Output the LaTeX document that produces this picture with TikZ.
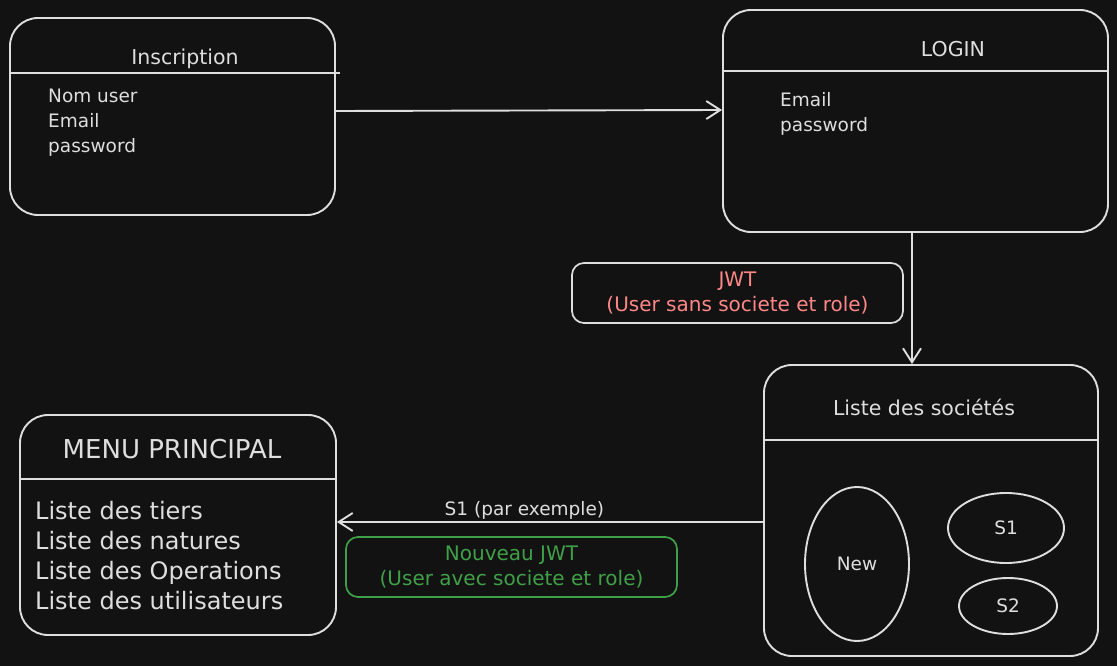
\documentclass[tikz,border=0pt]{standalone}
\usepackage{fontspec}
\setmainfont{DejaVu Sans}
\usetikzlibrary{arrows.meta,shapes.geometric}
\definecolor{fond}{HTML}{121212}
\definecolor{trait}{HTML}{DEDEDE}
\definecolor{rouge}{HTML}{FF8787}
\definecolor{vert}{HTML}{40A048}
\tikzset{
    boite/.style={draw=trait, line width=1.9pt, rounded corners=28pt, inner sep=0pt},
    etiquette/.style={line width=1.7pt, rounded corners=12pt, inner sep=0pt, align=center,
        minimum width=331pt, minimum height=60pt, font=\fontsize{20}{25}\selectfont},
    bulle/.style={ellipse, draw=trait, line width=1.9pt, inner sep=0pt, text=trait,
        font=\fontsize{18.5}{22}\selectfont},
    fleche/.style={draw=trait, line width=1.9pt, -{Straight Barb[length=14pt,width=18pt]}},
    texte/.style={text=trait, inner sep=0pt, font=\fontsize{18.5}{22}\selectfont},
    titre/.style={text=trait, inner sep=0pt, font=\fontsize{20.5}{24}\selectfont},
    grand/.style={text=trait, inner sep=0pt, font=\fontsize{24}{28}\selectfont},
}
\begin{document}
\begin{tikzpicture}[x=1pt, y=-1pt]
    % Fond
    \fill[fond] (0,0) rectangle (1117,666);
    % Inscription
    \node[boite, minimum width=325pt, minimum height=197pt] (inscr) at (172.5,116.5) {};
    \draw[trait, line width=1.9pt] (inscr.west |- 0,73) -- (340,73);
    \node[titre, anchor=base] (titreInscr) at (185,65) {Inscription};
    \foreach \ligne [count=\i] in {Nom user, Email, password}
        \node[texte, anchor=base west] (inscr-\i) at (48,78+25*\i) {\ligne};
    % Login
    \node[boite, minimum width=385pt, minimum height=222pt] (login) at (915.5,121) {};
    \draw[trait, line width=1.9pt] (login.west |- 0,71) -- (login.east |- 0,71);
    \node[titre, anchor=base] (titreLogin) at (953,57) {LOGIN};
    \foreach \ligne [count=\i] in {Email, password}
        \node[texte, anchor=base west] (login-\i) at (780,82+25*\i) {\ligne};
    % Liste des societes
    \node[boite, minimum width=334pt, minimum height=291pt] (liste) at (931,510.5) {};
    \draw[trait, line width=1.9pt] (liste.west |- 0,440) -- (liste.east |- 0,440);
    \node[titre, anchor=base] (titreListe) at (924,415) {Liste des sociétés};
    \node[bulle, minimum width=104pt, minimum height=154pt] (new) at (857,564) {New};
    \node[bulle, minimum width=116pt, minimum height=70pt] (s1) at (1006,528) {S1};
    \node[bulle, minimum width=98pt, minimum height=56pt] (s2) at (1008,606) {S2};
    % Menu principal
    \node[boite, minimum width=316pt, minimum height=220pt] (menu) at (178,525) {};
    \draw[trait, line width=1.9pt] (menu.west |- 0,479) -- (menu.east |- 0,479);
    \node[grand, anchor=base, font=\fontsize{26}{30}\selectfont] (titreMenu) at (172,458) {MENU PRINCIPAL};
    \foreach \ligne [count=\i] in {Liste des tiers, Liste des natures, Liste des Operations, Liste des utilisateurs}
        \node[grand, anchor=base west] (menu-\i) at (35,489+30*\i) {\ligne};
    % Jetons
    \node[etiquette, draw=trait, text=rouge] (jwt) at (737.5,293) {JWT\\(User sans societe et role)};
    \node[etiquette, draw=vert, text=vert] (nouveau) at (511.5,567) {Nouveau JWT\\(User avec societe et role)};
    % Fleches
    \draw[fleche] (inscr.east |- 0,111) -- (login.west |- 0,110);
    \draw[fleche] (login.south -| 912,0) -- (liste.north -| 912,0);
    \draw[fleche] (liste.west |- 0,522) -- node[texte, above=2pt, pos=0.56] (exemple) {S1 (par exemple)} (menu.east |- 0,522);
\end{tikzpicture}
\end{document}
